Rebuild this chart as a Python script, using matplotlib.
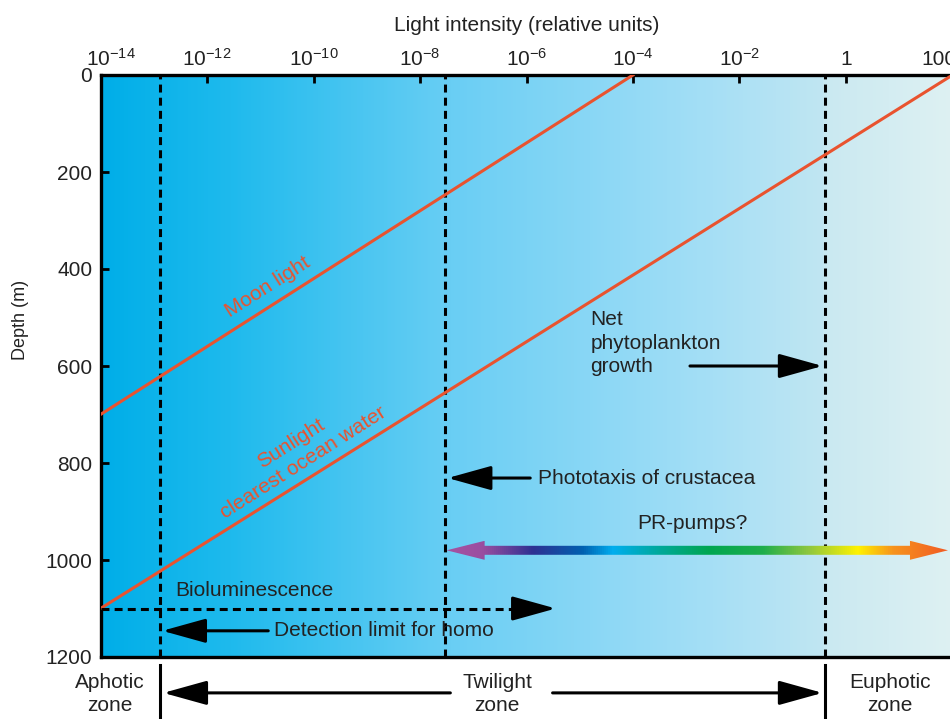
import numpy as np
import matplotlib.pyplot as plt
import matplotlib.transforms as mtransforms
from matplotlib.patches import Polygon
from matplotlib.colors import LinearSegmentedColormap

plt.rcParams['font.family'] = ['Liberation Sans', 'DejaVu Sans']
plt.rcParams['mathtext.fontset'] = 'custom'
plt.rcParams['mathtext.rm'] = 'Liberation Sans'
plt.rcParams['mathtext.it'] = 'Liberation Sans:italic'

# axis ticks (light intensity exponents, depth in m)
tick_exp = [-14, -12, -10, -8, -6, -4, -2, 0, 2]
tick_labels = [r'$10^{-14}$', r'$10^{-12}$', r'$10^{-10}$', r'$10^{-8}$',
               r'$10^{-6}$', r'$10^{-4}$', r'$10^{-2}$', '1', '100']
depth_ticks = [0, 200, 400, 600, 800, 1000, 1200]

# attenuation lines
moon_x = [1e-14, 1e-4]
moon_depth = [700, 0]
sun_x = [1e-14, 1e2]
sun_depth = [1100, 0]

# thresholds: detection limit for homo, crustacea phototaxis, net phytoplankton growth
limit_x = [1.3e-13, 2.9e-8, 0.41]

# arrows (log10 start, log10 tip, depth)
net_arrow = (-2.93, -0.44, 600)
photo_arrow = (-5.93, -7.48, 831)
detect_arrow = (-10.85, -12.84, 1146)
biolum_line = (-14, -6.2, -5.45, 1100)
pr_pumps = (-7.5, 1.915, 980)
zone_left = (-7.43, -12.82, 1274)
zone_right = (-5.51, -0.44, 1274)

red = '#e9532f'
ink = '#222222'

fig = plt.figure(figsize=(9.5, 7.19), dpi=100)
ax = fig.add_axes([100.5 / 950, 1 - 657 / 719, 852 / 950, 582 / 719])

# background gradient
bg = LinearSegmentedColormap.from_list('bg', [
    (0.0, (0 / 255, 174 / 255, 232 / 255)),
    (0.15, (30 / 255, 186 / 255, 237 / 255)),
    (0.41, (105 / 255, 206 / 255, 244 / 255)),
    (0.70, (162 / 255, 222 / 255, 246 / 255)),
    (0.848, (192 / 255, 230 / 255, 242 / 255)),
    (0.852, (202 / 255, 233 / 255, 241 / 255)),
    (1.0, (222 / 255, 241 / 255, 243 / 255))])
ax.imshow(np.linspace(0, 1, 512)[None, :], cmap=bg, aspect='auto',
          extent=(0, 1, 0, 1), transform=ax.transAxes, zorder=0)

ax.set_xscale('log')
ax.set_xlim(1e-14, 1e2)
ax.set_ylim(1200, 0)

ax.plot(moon_x, moon_depth, color=red, lw=2.2, zorder=3)
ax.plot(sun_x, sun_depth, color=red, lw=2.2, zorder=3)

for lx in limit_x:
    ax.axvline(lx, color='black', lw=2.2, ls=(0, (2.6, 1.7)), zorder=2)
for lx in (limit_x[0], limit_x[2]):
    ax.plot([lx, lx], [1216, 1340], color='black', lw=2.2, clip_on=False)

arrow_kw = dict(arrowstyle='-|>,head_length=1.8,head_width=0.5', mutation_scale=15,
                lw=2.2, color='black', shrinkA=0, shrinkB=0)


def arrow(start, tip, depth):
    ax.annotate('', xy=(10 ** tip, depth), xytext=(10 ** start, depth),
                arrowprops=arrow_kw, annotation_clip=False, zorder=4)


arrow(*net_arrow)
arrow(*photo_arrow)
arrow(*detect_arrow)
arrow(*zone_left)
arrow(*zone_right)

b0, b1, b2, bd = biolum_line
ax.plot([10 ** b0, 10 ** b1], [bd, bd], color='black', lw=2.2, ls=(0, (2.6, 1.7)), zorder=4)
arrow(b1 - 0.05, b2, bd)

# rainbow PR-pumps arrow
x0 = (pr_pumps[0] + 14) / 16
x1 = (pr_pumps[1] + 14) / 16
yc = 1 - pr_pumps[2] / 1200
hl = 38 / 852
hw = 9.5 / 582
sw = 4.5 / 582
pts = [(x0, yc), (x0 + hl, yc + hw), (x0 + hl, yc + sw), (x1 - hl, yc + sw),
       (x1 - hl, yc + hw), (x1, yc), (x1 - hl, yc - hw), (x1 - hl, yc - sw),
       (x0 + hl, yc - sw), (x0 + hl, yc - hw)]
poly = Polygon(pts, closed=True, transform=ax.transAxes, facecolor='none', edgecolor='none')
ax.add_patch(poly)
rainbow = LinearSegmentedColormap.from_list('rb', [
    (0.0, '#a652a1'), (0.07, '#9a4ea0'), (0.17, '#2e3192'), (0.27, '#0060b0'),
    (0.33, '#00aeef'), (0.42, '#00a99d'), (0.52, '#00a651'), (0.63, '#1fae4b'),
    (0.72, '#8dc63f'), (0.82, '#fff200'), (0.89, '#f7941d'), (1.0, '#f15a24')])
im = ax.imshow(np.linspace(0, 1, 512)[None, :], cmap=rainbow, aspect='auto',
               extent=(x0, x1, yc - hw, yc + hw), transform=ax.transAxes, zorder=4)
im.set_clip_path(poly)
ax.set_xlim(1e-14, 1e2)
ax.set_ylim(1200, 0)

fs = 15
ax.text(10 ** -10.86, 437, 'Moon light', color=red, fontsize=fs, rotation=32.5,
        ha='center', va='center', rotation_mode='anchor', zorder=5)
ax.text(10 ** -10.43, 759, 'Sunlight', color=red, fontsize=fs, rotation=32.5,
        ha='center', va='center', rotation_mode='anchor', zorder=5)
ax.text(10 ** -10.19, 800, 'clearest ocean water', color=red, fontsize=fs, rotation=32.5,
        ha='center', va='center', rotation_mode='anchor', zorder=5)

ax.text(10 ** -4.80, 553, 'Net\nphytoplankton\ngrowth', color=ink, fontsize=fs,
        ha='left', va='center', linespacing=1.3, zorder=5)
ax.text(10 ** -5.78, 831, 'Phototaxis of crustacea', color=ink, fontsize=fs,
        ha='left', va='center', zorder=5)
ax.text(10 ** -2.88, 924, 'PR-pumps?', color=ink, fontsize=fs, ha='center', va='center', zorder=5)
ax.text(10 ** -12.59, 1062, 'Bioluminescence', color=ink, fontsize=fs,
        ha='left', va='center', zorder=5)
ax.text(10 ** -10.75, 1146, 'Detection limit for homo', color=ink, fontsize=fs,
        ha='left', va='center', zorder=5)

for lx, name in [(-13.82, 'Aphotic\nzone'), (-6.55, 'Twilight\nzone'), (0.83, 'Euphotic\nzone')]:
    ax.text(10 ** lx, 1276, name, color=ink, fontsize=fs, ha='center', va='center',
            linespacing=1.3, clip_on=False)

ax.xaxis.tick_top()
ax.xaxis.set_label_position('top')
ax.set_xticks([10.0 ** e for e in tick_exp])
ax.set_xticklabels(tick_labels)
ax.minorticks_off()
ax.set_yticks(depth_ticks)
ax.set_yticklabels([str(d) for d in depth_ticks])
ax.tick_params(axis='both', direction='in', length=6, width=2, labelsize=fs,
               colors='black', labelcolor=ink, pad=6)
ax.tick_params(axis='x', pad=4)
ax.set_xlabel('Light intensity (relative units)', fontsize=fs, color=ink, labelpad=12)
ax.set_ylabel('Depth (m)', fontsize=13, color=ink)
ax.yaxis.set_label_coords(-0.084, 0.579)

# end labels nudged inward as in the original figure
xt = ax.get_xticklabels()
xt[0].set_transform(xt[0].get_transform() + mtransforms.ScaledTranslation(0.10, 0, fig.dpi_scale_trans))
xt[-1].set_transform(xt[-1].get_transform() + mtransforms.ScaledTranslation(-0.14, 0, fig.dpi_scale_trans))

for side in ('left', 'top', 'bottom'):
    ax.spines[side].set_linewidth(2.4)
ax.spines['right'].set_visible(False)

fig.savefig('out.png', dpi=100)
